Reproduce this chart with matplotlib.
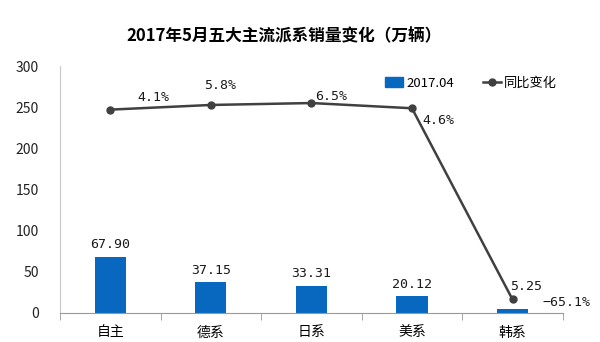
import numpy as np
import matplotlib
matplotlib.use('Agg')
import matplotlib.pyplot as plt
from matplotlib.lines import Line2D
from matplotlib.patches import Patch

plt.rcParams['font.family'] = ['Noto Sans CJK SC', 'DejaVu Sans']

categories = ['自主', '德系', '日系', '美系', '韩系']
sales = [67.90, 37.15, 33.31, 20.12, 5.25]
yoy = [4.1, 5.8, 6.5, 4.6, -65.1]
bar_legend = '2017.04'
line_legend = '同比变化'
title = '2017年5月五大主流派系销量变化（万辆）'

# label placement (points), as in the original
bar_lab_off = [(0, 4), (0, 4), (0, 4), (0, 4), (10, 11)]
pct_lab_off = [(31, 9), (7, 14), (14, 5), (19, -9), (39, -2)]

blue = '#0868bf'
dark = '#404040'
num_font = ['DejaVu Sans Mono']

fig = plt.figure(figsize=(6, 3.42), dpi=100)
ax = fig.add_axes([0.1, 0.085, 0.838, 0.722])
x = np.arange(len(categories))
ax.bar(x, sales, width=0.31, color=blue, zorder=2)
for xi, v, off in zip(x, sales, bar_lab_off):
    ax.annotate(f'{v:.2f}', (xi, v), xytext=off, textcoords='offset points',
                ha='center', va='bottom', fontsize=9.5, color='#1a1a1a', family=num_font)

ax.set_xlim(-0.5, len(categories) - 0.5)
ax.set_ylim(0, 300)
ax.set_yticks(np.arange(0, 301, 50))
ax.tick_params(axis='y', length=0, pad=15, labelsize=10, colors='#222222')
ax.set_xticks(x)
ax.set_xticklabels(categories, fontsize=10)
ax.tick_params(axis='x', which='major', length=0, pad=9)
ax.set_xticks(np.arange(-0.5, len(categories), 1), minor=True)
ax.tick_params(axis='x', which='minor', length=5, color='#999999', direction='out')
for s in ['top', 'right']:
    ax.spines[s].set_visible(False)
ax.spines['left'].set_color('#c8c8c8')
ax.spines['bottom'].set_color('#999999')

ax2 = ax.twinx()
ax2.set_ylim(-70, 20)
ax2.axis('off')
ax2.plot(x, yoy, color=dark, lw=1.8, marker='o', ms=5, zorder=3)
for xi, v, off in zip(x, yoy, pct_lab_off):
    lab = f'{v:.1f}%'.replace('-', '\u2212')
    ax2.annotate(lab, (xi, v), xytext=off, textcoords='offset points',
                 ha='center', va='center', fontsize=9.5, color='#1a1a1a', family=num_font)

handles = [Patch(color=blue), Line2D([], [], color=dark, lw=1.8, marker='o', ms=5)]
fig.legend(handles, [bar_legend, line_legend], loc='center', bbox_to_anchor=(0.785, 0.757),
           ncol=2, frameon=False, fontsize=9.5, handlelength=1.4, handletextpad=0.2,
           columnspacing=2.2)

fig.text(0.473, 0.895, title, ha='center', va='center', fontsize=12, fontweight='bold')
fig.savefig('out.png', dpi=100)
